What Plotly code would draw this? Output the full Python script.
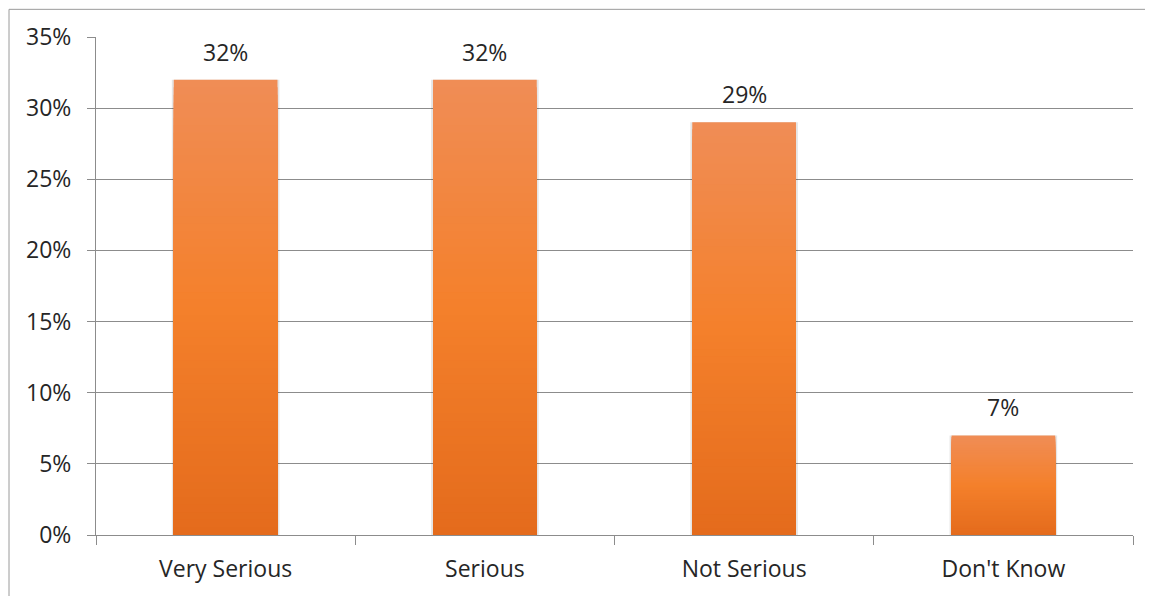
import plotly.graph_objects as go

categories = ["Very Serious", "Serious", "Not Serious", "Don't Know"]
values = [32, 32, 29, 7]
y_ticks = [0, 5, 10, 15, 20, 25, 30, 35]
y_tick_text = [f"{t}%" for t in y_ticks]

# gradient stops (fraction of bar height from bottom -> rgb)
stops = [(0.0, (228, 107, 28)), (0.5, (244, 128, 43)), (1.0, (240, 141, 86))]


def grad_color(f):
    for (f0, c0), (f1, c1) in zip(stops[:-1], stops[1:]):
        if f0 <= f <= f1:
            t = (f - f0) / (f1 - f0)
            c = [round(a + (b - a) * t) for a, b in zip(c0, c1)]
            return "rgb(%d,%d,%d)" % tuple(c)
    return "rgb(%d,%d,%d)" % stops[-1][1]


FONT = "Open Sans"
TXT = "#262626"
GRID = "#8c8c8c"
FS = 23

# page is offset by the 8px body margin
W, H = 1145, 588
L, R, T, B = 88, 20, 29, 55
PW, PH = W - L - R, H - T - B

fig = go.Figure()

# soft shadow behind bars
fig.add_trace(go.Bar(x=categories, y=values, width=0.415,
                     marker=dict(color="rgba(0,0,0,0.10)", line=dict(width=0)),
                     hoverinfo="skip", showlegend=False))

N = 60
for k in range(N):
    f = 1 - k / N
    fig.add_trace(go.Bar(
        x=categories, y=[v * f for v in values], width=0.4,
        marker=dict(color=grad_color(f - 0.5 / N), line=dict(width=0)),
        hoverinfo="skip", showlegend=False))

for c, v in zip(categories, values):
    fig.add_annotation(x=c, y=v, text=f"{v}%", showarrow=False,
                       yanchor="middle", yshift=28,
                       font=dict(family=FONT, size=FS, color=TXT))

fig.update_layout(
    barmode="overlay",
    width=W, height=H,
    margin=dict(l=L, r=R, t=T, b=B),
    paper_bgcolor="white", plot_bgcolor="white",
    font=dict(family=FONT, size=FS, color=TXT),
    showlegend=False,
    xaxis=dict(
        type="category", showgrid=False, showline=True, linecolor=GRID, linewidth=1,
        ticks="outside", ticklen=9, tickcolor=GRID, tickson="boundaries",
        ticklabelstandoff=13, tickfont=dict(family=FONT, size=FS, color=TXT),
    ),
    yaxis=dict(
        range=[0, 35], tickmode="array", tickvals=y_ticks, ticktext=y_tick_text,
        showgrid=True, gridcolor=GRID, gridwidth=1,
        showline=True, linecolor=GRID, linewidth=1,
        ticks="outside", ticklen=8, tickcolor=GRID,
        ticklabelstandoff=11, tickfont=dict(family=FONT, size=FS, color=TXT),
        zeroline=False,
    ),
    shapes=[dict(type="rect", xref="paper", yref="paper",
                 x0=(1 - L) / PW, x1=(W + 20 - L) / PW,
                 y0=-(B + 20) / PH, y1=(PH + T - 1) / PH,
                 line=dict(color="#9a9a9a", width=1), layer="below")],
)

fig.write_html("out.html")
